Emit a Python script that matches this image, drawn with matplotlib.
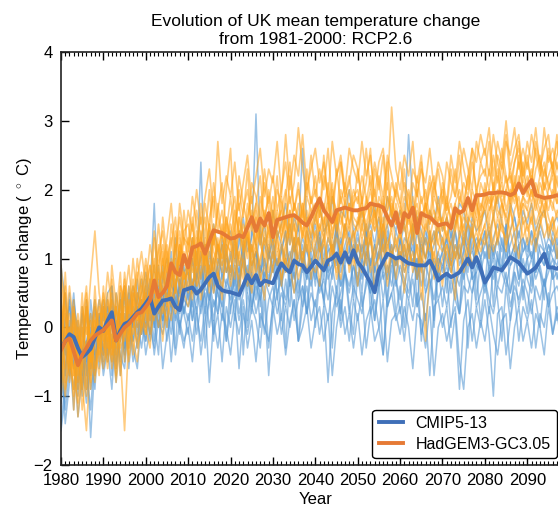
#!/usr/bin/env python3

import matplotlib
matplotlib.use('Agg')
import matplotlib.pyplot as plt
import numpy as np

plt.rcParams['font.family'] = ['Liberation Sans', 'DejaVu Sans']
plt.rcParams['mathtext.fontset'] = 'custom'
plt.rcParams['mathtext.rm'] = 'Liberation Sans'

years = np.arange(1980, 2100)

# ensemble means, 1980-2099
cmip_mean = [
    -0.31, -0.20, -0.10, -0.14, -0.30, -0.43, -0.38, -0.31, -0.15, 0.00,
    -0.05, 0.10, 0.22, -0.19, -0.05, 0.05, 0.08, 0.15, 0.22, 0.27,
    0.35, 0.44, 0.20, 0.30, 0.39, 0.40, 0.42, 0.30, 0.25, 0.54,
    0.56, 0.58, 0.49, 0.55, 0.64, 0.73, 0.78, 0.60, 0.54, 0.52,
    0.51, 0.49, 0.47, 0.61, 0.76, 0.64, 0.76, 0.61, 0.68, 0.66,
    0.64, 0.80, 0.93, 0.85, 0.80, 0.97, 0.92, 0.90, 0.80, 0.88,
    0.97, 0.90, 0.83, 0.97, 1.00, 1.07, 0.94, 1.09, 0.94, 1.12,
    0.95, 0.87, 0.76, 0.65, 0.51, 0.83, 0.95, 1.07, 1.04, 1.00,
    1.02, 0.97, 0.93, 0.92, 0.90, 0.90, 0.90, 0.97, 0.85, 0.68,
    0.74, 0.78, 0.73, 0.76, 0.80, 0.90, 1.00, 0.87, 1.02, 0.85,
    0.65, 0.75, 0.87, 0.85, 0.83, 0.92, 1.02, 0.98, 0.94, 0.86,
    0.78, 0.82, 0.87, 0.97, 1.07, 0.87, 0.87, 0.85, 0.90, 0.88,
]

hadgem_mean = [
    -0.33, -0.20, -0.16, -0.35, -0.55, -0.40, -0.30, -0.19, -0.12, -0.08,
    -0.04, 0.03, 0.10, -0.19, -0.09, 0.00, 0.05, 0.12, 0.20, 0.22,
    0.30, 0.39, 0.68, 0.44, 0.50, 0.60, 0.93, 0.80, 0.76, 1.05,
    0.87, 1.16, 1.18, 1.22, 1.07, 1.25, 1.41, 1.39, 1.37, 1.33,
    1.29, 1.30, 1.34, 1.31, 1.45, 1.60, 1.40, 1.58, 1.48, 1.66,
    1.31, 1.56, 1.58, 1.60, 1.62, 1.63, 1.58, 1.52, 1.48, 1.60,
    1.74, 1.87, 1.70, 1.62, 1.53, 1.70, 1.72, 1.74, 1.72, 1.70,
    1.70, 1.72, 1.73, 1.80, 1.78, 1.77, 1.74, 1.60, 1.48, 1.67,
    1.38, 1.66, 1.60, 1.74, 1.37, 1.66, 1.62, 1.60, 1.54, 1.48,
    1.50, 1.51, 1.44, 1.73, 1.66, 1.70, 1.88, 1.70, 1.92, 1.92,
    1.93, 1.95, 1.95, 1.96, 1.96, 1.95, 1.92, 1.95, 2.09, 1.95,
    2.05, 2.14, 1.92, 1.90, 1.88, 1.89, 1.90, 1.92, 1.90, 1.93,
]

# individual CMIP5 runs
cmip_runs = [
    [-0.6, 0.1, 0.3, -0.2, -0.5, -0.9, -0.3, 0.2, -0.1, 0.4,
     0.1, 0.5, 0.6, -0.3, 0.2, 0.0, 0.3, 0.6, 0.2, 0.5,
     0.8, 0.4, 0.9, 0.3, 0.7, 1.0, 0.6, 0.5, 1.1, 0.8,
     0.9, 1.3, 0.7, 1.0, 1.2, 0.8, 1.5, 1.1, 0.9, 1.3,
     1.4, 1.0, 1.2, 1.6, 1.1, 1.3, 3.1, 1.2, 1.5, 1.0,
     1.7, 1.3, 1.5, 1.8, 1.2, 1.6, 1.4, 2.6, 1.5, 1.3,
     1.6, 1.8, 1.4, 1.5, 1.9, 1.3, 1.7, 1.6, 2.0, 1.4,
     1.5, 1.7, 1.3, 1.6, 1.8, 1.2, 1.5, 1.9, 1.6, 1.4,
     1.7, 1.5, 2.8, 1.8, 1.6, 1.4, 1.2, 1.7, 1.5, 1.9,
     1.4, 1.6, 1.3, 1.5, 1.8, 1.7, 1.2, 1.6, 1.4, 1.5,
     1.7, 1.3, 1.6, 1.9, 1.5, 1.4, 1.8, 1.6, 1.3, 1.7,
     1.5, 1.8, 1.4, 1.6, 1.7, 1.3, 1.5, 1.6, 1.4, 1.7],
    [0.3, -0.4, -0.1, 0.5, -0.3, -0.7, -0.2, 0.1, -0.5, 0.2,
     -0.2, 0.3, 0.0, -0.6, 0.4, 0.1, -0.1, 0.5, 0.3, 0.0,
     0.4, 0.7, 0.1, 0.5, 0.9, 0.3, 0.6, 1.3, 0.5, 0.7,
     0.8, 0.5, 1.1, 0.7, 1.0, 1.4, 0.6, 0.9, 1.2, 0.8,
     1.0, 1.3, 0.9, 1.1, 0.7, 1.4, 1.2, 0.8, 1.3, 1.1,
     0.9, 1.4, 1.2, 1.0, 1.5, 1.1, 1.3, 0.9, 1.4, 1.2,
     1.5, 1.1, 1.3, 1.6, 1.0, 1.4, 1.2, 1.5, 1.3, 1.1,
     1.4, 1.0, 1.3, 1.5, 1.2, 1.6, 1.1, 1.3, 1.0, 1.4,
     1.2, 1.5, 1.1, 1.3, 1.6, 1.0, 1.4, 1.2, 1.3, 1.5,
     1.1, 1.3, 1.5, 1.0, 1.4, 1.2, 1.6, 1.1, 1.3, 1.2,
     1.4, 1.0, 1.3, 1.5, 1.2, 1.1, 1.4, 1.6, 1.2, 1.3,
     1.1, 1.4, 1.2, 1.5, 1.3, 1.0, 1.4, 1.2, 1.3, 1.4],
    [-1.4, -0.8, 0.0, -0.3, -1.0, -0.4, 0.2, -0.6, -0.2, 0.1,
     -0.5, 0.2, -0.3, 0.3, -0.1, 0.6, 0.1, -0.2, 0.5, 0.3,
     0.0, 0.5, 1.8, 0.2, 0.4, 0.7, 0.3, 0.6, 0.9, 0.4,
     0.7, 1.0, 0.5, 0.9, 0.6, 1.1, 0.8, 1.2, 0.7, 1.0,
     0.8, 1.2, 0.6, 1.0, 1.3, 0.9, 1.1, 0.7, 1.2, 1.0,
     1.3, 0.9, 1.1, 1.4, 0.8, 1.2, 1.0, 1.3, 1.1, 0.9,
     1.2, 1.4, 1.0, 1.3, 1.1, 1.5, 0.9, 1.2, 1.4, 1.0,
     1.3, 1.1, 1.4, 0.9, 1.2, 1.0, 1.3, 1.5, 1.1, 1.2,
     1.0, 1.3, 1.2, 0.9, 1.4, 1.1, 1.3, 1.0, 1.2, 1.4,
     1.3, 0.9, 1.2, 1.4, 1.0, 1.3, 1.1, 1.4, 1.2, 1.0,
     1.2, 1.4, 1.0, 1.3, 1.1, 1.5, 1.0, 1.2, 1.4, 1.1,
     1.3, 1.0, 1.2, 1.4, 1.1, 1.3, 1.2, 1.0, 1.3, 1.2],
    [0.2, -0.3, -0.7, 0.4, -0.1, -0.5, -1.1, -0.4, 0.0, -0.2,
     0.3, -0.4, 0.1, -0.2, 0.5, -0.3, 0.2, 0.0, 0.4, 0.7,
     0.2, 0.5, 0.0, 0.6, 0.3, 0.8, 0.4, 0.1, 0.7, 0.5,
     1.0, 0.6, 0.8, 2.4, 0.7, 0.9, 0.5, 1.0, 0.8, 1.1,
     0.7, 1.0, 0.8, 1.2, 0.6, 0.9, 1.1, 0.8, 1.0, 0.7,
     1.1, 0.9, 1.2, 0.8, 1.0, 1.3, 0.9, 1.1, 0.7, 1.2,
     1.0, 1.3, 0.8, 1.1, 1.2, 0.9, 1.3, 1.0, 1.1, 1.4,
     0.9, 1.2, 1.0, 1.3, 0.8, 1.1, 1.4, 1.0, 1.2, 0.9,
     1.3, 1.0, 1.2, 1.1, 0.8, 1.3, 1.0, 1.2, 1.4, 0.9,
     1.1, 1.3, 0.9, 1.2, 1.0, 1.4, 1.1, 0.9, 1.2, 1.3,
     1.0, 1.2, 1.1, 0.8, 1.3, 1.0, 1.2, 1.4, 0.9, 1.1,
     1.2, 1.0, 1.3, 1.1, 0.9, 1.2, 1.1, 1.3, 1.0, 1.2],
    [-0.9, -0.2, 0.4, -0.6, -0.1, -0.8, -0.3, -1.6, -0.5, 0.0,
     -0.3, 0.0, 0.4, -0.5, -0.2, 0.2, -0.1, 0.3, 0.0, 0.2,
     0.5, 0.1, 0.3, 0.7, 0.2, 0.4, 0.9, 0.3, 0.5, 0.2,
     0.6, 0.3, 0.8, 0.5, 0.9, 0.4, 0.7, 0.2, 0.8, 0.6,
     0.9, 0.5, 0.7, 1.0, 0.6, 0.8, 0.4, 0.9, 0.7, 1.1,
     0.8, 1.0, 0.6, 0.9, 1.1, 0.7, 0.9, 1.2, 0.8, 1.0,
     0.7, 1.0, 1.2, 0.8, 0.9, 1.1, 0.6, 1.0, 0.9, 1.2,
     1.0, 0.7, 1.1, 0.9, 1.2, 0.8, 1.0, 0.7, 1.1, 0.9,
     1.1, 0.8, 1.0, 1.2, 0.7, 1.0, 0.9, 1.1, 0.8, 1.0,
     0.9, 1.1, 0.8, 1.0, 1.2, 0.7, 1.0, 1.1, 0.9, 0.8,
     1.1, 0.9, 1.2, 1.0, 0.8, 1.1, 0.9, 1.0, 1.2, 0.8,
     1.0, 1.1, 0.8, 1.0, 0.9, 1.2, 1.0, 0.9, 1.1, 1.0],
    [0.9, 0.4, -0.2, -0.6, 0.1, -0.4, 0.3, -0.2, -0.7, 0.1,
     0.4, -0.1, 0.2, -0.4, 0.0, 0.5, -0.2, 0.1, 0.3, -0.1,
     0.2, 0.6, 0.0, 0.4, 0.1, 0.5, 0.3, 0.7, 0.2, 0.4,
     0.3, 0.7, 0.5, 0.2, 0.6, 0.4, 0.8, 0.5, 0.3, 0.7,
     0.5, 0.8, 0.4, 0.6, 0.9, 0.3, 0.7, 0.5, 0.8, 0.6,
     0.9, 0.5, 0.7, 1.0, 0.6, 0.8, 0.4, 0.9, 0.7, 1.0,
     0.8, 0.6, 1.0, 0.7, 0.9, 0.5, 1.1, 0.8, 0.6, 0.9,
     0.7, 1.0, 0.8, 0.5, 0.9, 1.1, 0.7, 0.9, 0.6, 1.0,
     0.8, 0.6, 0.9, 1.0, 0.7, 0.9, 0.5, 0.8, 1.0, 0.7,
     0.9, 0.7, 1.0, 0.6, 0.8, 0.9, 1.1, 0.7, 0.8, 1.0,
     0.6, 0.9, 0.7, 1.0, 0.8, 0.6, 0.9, 1.1, 0.7, 0.9,
     0.8, 1.0, 0.7, 0.9, 0.6, 0.8, 1.0, 0.7, 0.9, 0.8],
    [-1.5, -1.0, -0.4, 0.2, -0.8, -0.3, -0.9, 0.0, -0.4, -0.1,
     -0.6, -0.2, 0.3, -0.1, -0.5, 0.1, -0.3, 0.2, -0.1, 0.4,
     0.0, 0.3, -0.2, 0.5, 0.1, 0.3, -0.1, 0.4, 0.6, 0.2,
     0.5, 0.1, 0.4, 0.6, 0.2, 0.7, 0.3, 0.5, 0.1, 0.6,
     0.4, 0.7, 0.2, 0.5, 0.8, 0.3, 0.6, 0.4, 0.7, 0.5,
     0.3, 0.8, 0.6, 0.4, 0.9, 0.5, 0.7, 0.3, 0.8, 0.6,
     0.9, 0.5, 0.7, 0.4, 0.8, 1.0, 0.6, 0.8, 0.5, 0.9,
     0.6, 0.8, 1.0, 0.5, 0.7, 0.9, 0.4, 0.8, 1.0, 0.6,
     0.9, 0.7, 0.5, 0.8, 1.0, 0.6, 0.9, 0.7, 0.4, 0.8,
     0.7, 0.9, 0.5, 0.8, 0.6, 1.0, 0.7, 0.5, 0.9, 0.8,
     0.5, 0.8, 1.0, 0.6, 0.9, 0.7, 0.5, 0.8, 0.6, 1.0,
     0.7, 0.5, 0.9, 0.8, 0.6, 1.0, 0.7, 0.8, 0.5, 0.9],
    [-0.2, 0.5, -0.4, -0.9, -0.3, 0.2, -0.6, -1.2, -0.3, 0.1,
     -0.4, 0.1, -0.3, 0.2, -0.7, -0.1, 0.3, -0.2, 0.1, -0.3,
     0.2, -0.1, 0.3, 0.0, 0.4, -0.2, 0.2, 0.5, 0.0, 0.3,
     0.1, 0.4, -0.1, 0.3, 0.5, 0.0, 0.4, 0.2, 0.6, -0.2,
     0.3, 0.5, 0.1, 0.4, 0.0, 0.6, 0.2, 0.5, -0.1, 0.4,
     0.6, 0.2, 0.5, 0.3, 0.7, 0.1, 0.4, 0.6, 0.2, 0.5,
     0.3, 0.7, 0.4, 0.1, 0.6, 0.3, 0.5, 0.8, 0.2, 0.6,
     0.4, 0.2, 0.7, 0.5, 0.1, 0.6, 0.8, 0.3, 0.5, 0.7,
     0.2, 0.6, 0.4, 0.7, 0.3, 0.5, 0.1, 0.6, 0.8, 0.4,
     0.6, 0.3, 0.7, 0.4, 0.2, 0.6, 0.5, 0.8, 0.3, 0.5,
     0.7, 0.4, 0.2, 0.6, 0.5, 0.8, 0.3, 0.6, 0.4, 0.7,
     0.5, 0.2, 0.6, 0.4, 0.7, 0.3, 0.5, 0.6, 0.4, 0.6],
    [-0.5, -1.2, -0.6, 0.0, -0.4, -1.0, -0.2, -0.7, 0.3, -0.3,
     0.0, -0.5, -0.1, -0.8, 0.2, -0.4, 0.1, -0.3, -0.6, 0.1,
     -0.2, 0.2, -0.4, 0.1, -0.1, 0.3, -0.5, 0.2, 0.0, -0.3,
     0.2, -0.2, 0.3, -0.4, 0.1, 0.4, -0.1, 0.2, -0.5, 0.3,
     0.0, 0.4, -0.6, 0.2, -0.1, 0.3, 0.1, -0.3, 0.4, -0.7,
     0.2, 0.5, -0.1, 0.3, 0.0, 0.4, -0.2, 0.3, 0.6, 0.1,
     0.4, -0.1, 0.3, -0.8, 0.2, 0.5, 0.0, 0.3, -0.2, 0.4,
     0.1, 0.5, -0.3, 0.2, 0.4, 0.0, -0.4, 0.3, 0.5, 0.1,
     0.3, -0.2, 0.4, 0.1, 0.5, -0.1, 0.2, -0.7, 0.3, 0.4,
     0.0, 0.3, -0.3, 0.2, -0.9, 0.1, 0.4, -0.2, 0.3, 0.0,
     0.4, -0.1, -1.0, 0.2, 0.3, -0.4, 0.1, 0.5, -0.2, 0.3,
     0.1, 0.4, -0.3, 0.2, 0.0, 0.5, -0.1, 0.3, 0.2, 0.1],
    [-1.1, -0.6, 0.1, -0.4, -1.3, -0.7, -0.2, -0.9, -0.5, -0.1,
     -0.7, -0.3, -0.9, 0.0, -0.4, -0.6, 0.1, -0.5, -0.2, 0.2,
     -0.4, 0.0, -0.3, 0.3, -0.6, -0.1, 0.2, -0.4, 0.1, -0.2,
     0.0, -0.5, 0.2, -0.2, 0.3, -0.8, 0.1, -0.3, 0.2, 0.0,
     -0.4, 0.2, -0.1, 0.3, -0.3, 0.1, -0.5, 0.2, 0.0, -0.2,
     0.3, -0.1, 0.2, -0.4, 0.1, 0.4, -0.2, 0.0, 0.3, -0.3,
     0.1, 0.3, -0.2, 0.2, -0.7, 0.0, 0.4, -0.1, 0.2, -0.3,
     0.2, -0.4, 0.1, 0.3, -0.2, 0.0, 0.4, -0.5, 0.1, 0.2,
     -0.1, 0.3, 0.0, -0.6, 0.2, 0.1, -0.3, 0.3, -0.7, 0.0,
     0.2, -0.2, 0.1, 0.3, -0.5, -0.9, 0.0, 0.2, -0.3, 0.1,
     -0.2, 0.3, -0.1, -0.4, 0.1, 0.2, -0.6, 0.0, 0.3, -0.2,
     0.1, -0.3, 0.2, 0.0, -0.4, 0.3, -0.1, 0.2, -0.2, 0.0],
    [0.0, -0.7, 0.5, -0.2, -0.9, 0.3, -0.5, -0.1, 0.4, -0.6,
     0.3, -0.3, 0.6, -0.2, 0.4, -0.5, 0.5, 0.0, 0.7, -0.1,
     0.6, -0.2, 0.5, 0.9, 0.0, 0.7, 0.2, 1.0, -0.1, 0.6,
     0.9, 0.1, 0.7, 1.1, 0.3, 0.8, -0.2, 0.9, 0.5, 1.2,
     0.2, 0.9, 0.5, 1.3, 0.1, 0.8, 1.1, 0.3, 1.0, 0.6,
     1.2, 0.4, 0.9, -0.3, 0.8, 1.3, 0.5, 1.0, 0.2, 1.1,
     0.6, 1.3, 0.3, 1.0, 0.7, 1.4, 0.1, 0.9, 1.2, 0.4,
     1.0, 0.5, 1.3, 0.2, 0.9, 0.6, 1.4, 0.3, 1.1, 0.7,
     0.4, 1.2, 0.8, 1.5, 0.3, 1.0, 0.6, 1.3, 0.0, 0.9,
     1.1, 0.5, 1.4, 0.7, 0.2, 1.2, 0.8, 1.5, 0.4, 1.0,
     0.6, 1.3, 0.3, 1.1, 0.8, 1.4, 0.5, 0.9, 1.2, 0.4,
     1.0, 0.6, 1.3, 0.8, 0.4, 1.1, 0.7, 1.2, 0.5, 0.9],
    [-0.8, 0.2, -0.4, -1.2, 0.0, -0.6, 0.4, -0.3, -0.9, 0.1,
     -0.4, 0.3, -0.7, 0.1, -0.2, 0.5, -0.6, 0.2, -0.3, 0.4,
     -0.2, 0.5, 0.1, -0.4, 0.6, 0.0, 0.4, -0.3, 0.7, 0.2,
     -0.1, 0.6, 0.2, 0.8, -0.3, 0.5, 0.1, 0.7, 0.3, -0.2,
     0.7, 0.1, 0.9, -0.4, 0.5, 0.2, 0.8, 0.0, 0.6, -0.3,
     0.4, 0.9, 0.1, 0.7, 0.3, 1.0, -0.2, 0.6, 0.2, 0.8,
     0.0, 0.7, 0.4, 1.0, -0.3, 0.6, 0.2, 0.9, 0.3, -0.1,
     0.8, 0.3, 0.6, 1.0, 0.1, 0.7, -0.4, 0.5, 0.9, 0.2,
     0.6, 0.0, 0.8, 0.3, 1.0, -0.2, 0.5, 0.7, 0.1, 0.9,
     0.3, 0.8, 0.0, 0.6, 0.2, 0.9, -0.3, 0.5, 0.8, 0.1,
     0.7, 0.2, 0.9, 0.4, -0.2, 0.6, 0.1, 0.8, 0.3, 0.6,
     0.2, 0.8, 0.4, 0.0, 0.7, 0.3, 0.9, 0.1, 0.6, 0.4],
    [-0.3, -1.4, -0.8, 0.3, -0.5, 0.0, -0.7, 0.4, -0.2, 0.2,
     -0.1, 0.4, -0.5, 0.5, 0.0, -0.3, 0.6, 0.1, 0.4, 0.0,
     0.7, 0.2, 0.5, 0.0, 0.8, 0.4, 1.1, 0.3, 0.6, 0.9,
     0.4, 1.0, 0.6, 0.3, 1.2, 0.7, 1.0, 0.5, 1.3, 0.8,
     1.1, 0.6, 1.4, 0.9, 0.5, 1.2, 0.8, 1.5, 0.7, 1.0,
     1.3, 0.7, 1.1, 1.4, 0.6, 1.0, 1.5, 0.8, 1.2, 0.7,
     1.1, 1.4, 0.7, 1.2, 0.9, 1.5, 0.8, 1.1, 1.3, 0.6,
     1.2, 0.9, 1.5, 0.7, 1.0, 1.3, 0.8, 1.4, 1.0, 0.7,
     1.3, 0.9, 1.1, 1.5, 0.7, 1.2, 1.0, 1.4, 0.8, 1.1,
     0.8, 1.3, 1.0, 1.4, 0.9, 1.1, 1.5, 0.7, 1.2, 1.0,
     1.4, 0.8, 1.1, 1.3, 0.9, 1.5, 1.0, 1.2, 0.7, 1.3,
     1.0, 1.4, 0.8, 1.2, 1.1, 0.9, 1.3, 1.0, 1.4, 1.1],
]

# individual HadGEM3 perturbed-physics runs
hadgem_runs = [
    [0.4, -0.3, 0.6, 0.0, -0.5, 0.3, -0.1, 0.7, 1.4, 0.5,
     0.1, 0.8, 0.3, -0.2, 0.6, 0.4, 0.9, 0.2, 0.7, 1.1,
     0.6, 1.2, 0.8, 1.5, 0.9, 1.3, 1.8, 1.1, 1.6, 1.2,
     1.7, 1.4, 2.0, 1.5, 1.9, 2.3, 1.6, 2.7, 1.8, 2.2,
     1.9, 2.4, 1.7, 2.1, 2.5, 1.8, 2.2, 2.6, 1.9, 2.3,
     2.1, 2.7, 1.9, 2.8, 2.0, 2.5, 2.2, 2.8, 2.0, 2.3,
     2.6, 2.1, 2.4, 1.9, 2.7, 2.2, 2.5, 2.0, 2.6, 2.3,
     2.1, 2.7, 2.2, 2.5, 1.9, 2.4, 2.6, 2.0, 3.2, 2.3,
     2.0, 2.5, 2.2, 2.7, 1.9, 2.3, 2.1, 2.6, 2.0, 2.4,
     2.2, 1.8, 2.5, 2.1, 2.7, 2.3, 2.0, 2.6, 2.4, 2.8,
     2.5, 2.9, 2.2, 2.7, 2.4, 3.0, 2.3, 2.6, 2.8, 2.2,
     2.7, 2.4, 2.9, 2.3, 2.6, 2.8, 2.2, 2.5, 2.7, 2.4],
    [-0.2, 0.5, -0.6, 0.2, -0.3, 0.1, 0.6, -0.4, 0.3, 0.0,
     0.5, -0.1, 0.4, 0.2, 0.8, -0.2, 0.6, 0.3, 1.0, 0.5,
     1.0, 0.6, 1.4, 0.9, 1.2, 0.7, 1.5, 1.0, 1.8, 1.3,
     1.2, 1.9, 1.5, 1.1, 1.8, 1.4, 2.1, 1.6, 1.3, 2.0,
     2.6, 1.4, 2.2, 1.8, 1.5, 2.1, 1.9, 1.6, 2.3, 1.8,
     2.2, 1.7, 2.0, 2.4, 1.8, 2.1, 2.9, 2.3, 1.9, 2.5,
     1.9, 2.3, 2.0, 2.6, 1.8, 2.2, 2.4, 1.9, 2.1, 2.5,
     2.3, 1.8, 2.6, 2.0, 2.4, 2.1, 1.7, 2.5, 2.2, 1.9,
     2.4, 2.0, 1.7, 2.3, 2.1, 2.5, 1.8, 2.2, 1.9, 2.3,
     1.8, 2.4, 2.1, 1.9, 2.2, 2.6, 2.3, 2.0, 2.7, 2.4,
     2.6, 2.2, 2.8, 2.4, 2.1, 2.7, 2.5, 2.9, 2.3, 2.6,
     2.3, 2.8, 2.5, 2.2, 2.9, 2.4, 2.6, 2.3, 2.5, 2.7],
    [-0.7, -0.1, 0.2, -0.4, -0.9, -0.2, 0.3, -0.5, 0.1, -0.2,
     0.3, 0.0, -0.4, 0.5, 0.1, 0.7, 0.2, 0.6, 0.4, 0.8,
     0.4, 0.9, 0.5, 1.1, 1.4, 0.8, 1.2, 1.6, 0.9, 1.4,
     1.5, 1.1, 1.7, 1.3, 1.0, 1.6, 1.9, 1.4, 1.7, 1.2,
     1.6, 1.9, 1.3, 1.7, 2.0, 1.5, 1.8, 1.4, 2.1, 1.7,
     1.5, 2.0, 1.8, 1.4, 2.2, 1.7, 2.0, 1.6, 2.1, 1.8,
     2.0, 1.6, 2.2, 1.9, 1.5, 2.3, 1.8, 2.1, 1.7, 2.0,
     1.8, 2.2, 1.9, 1.6, 2.3, 2.0, 2.5, 1.7, 2.1, 1.9,
     1.7, 2.1, 1.9, 1.5, 2.2, 1.8, 2.0, 1.6, 2.1, 1.8,
     2.0, 1.7, 1.9, 2.3, 1.8, 2.1, 1.9, 2.4, 2.0, 2.2,
     2.3, 2.0, 2.5, 2.1, 2.6, 2.2, 1.9, 2.4, 2.7, 2.1,
     2.4, 2.1, 2.6, 2.3, 2.0, 2.5, 2.3, 2.7, 2.2, 2.4],
    [0.7, 0.1, -0.4, 0.3, -0.1, -0.6, 0.2, -0.2, 0.4, -0.1,
     -0.3, 0.4, 0.1, -0.1, 0.3, 0.6, 0.0, 0.4, 0.1, 0.7,
     0.3, 0.5, 1.0, 0.6, 0.8, 1.2, 0.7, 1.1, 1.4, 0.9,
     1.3, 0.9, 1.2, 1.6, 1.1, 1.5, 1.2, 1.8, 1.3, 1.6,
     1.3, 1.7, 1.4, 1.1, 1.8, 1.5, 1.2, 1.9, 1.6, 1.4,
     1.9, 1.5, 1.7, 2.0, 1.4, 1.8, 1.6, 1.3, 1.9, 1.7,
     1.5, 1.9, 1.7, 2.1, 1.6, 1.4, 2.0, 1.8, 1.5, 1.9,
     2.0, 1.6, 1.8, 2.2, 1.5, 1.9, 1.7, 2.1, 1.6, 2.0,
     1.8, 1.5, 2.0, 1.7, 1.4, 1.9, 1.6, 2.1, 1.7, 1.5,
     1.9, 1.6, 1.4, 1.8, 2.0, 1.7, 2.2, 1.8, 1.6, 2.1,
     1.9, 2.3, 2.0, 1.8, 2.4, 2.1, 2.2, 1.9, 2.5, 2.0,
     2.2, 1.9, 2.3, 2.5, 2.0, 2.2, 2.4, 1.9, 2.1, 2.3],
    [-0.4, 0.3, -0.8, -0.3, 0.2, -0.5, -1.0, -0.1, -0.6, 0.0,
     -0.2, -0.5, 0.2, -0.4, 0.0, 0.3, -0.1, 0.5, 0.2, 0.0,
     0.5, 0.2, 0.7, 0.4, 1.0, 0.6, 0.9, 0.5, 1.2, 1.0,
     0.9, 1.3, 1.0, 1.4, 0.8, 1.2, 1.5, 1.1, 1.4, 1.0,
     1.5, 1.2, 1.6, 1.3, 1.0, 1.7, 1.4, 1.2, 1.6, 1.9,
     1.4, 1.7, 1.3, 1.6, 1.9, 1.5, 1.2, 1.8, 1.5, 1.7,
     1.8, 1.4, 1.6, 1.3, 1.9, 1.7, 1.5, 1.8, 2.0, 1.6,
     1.5, 1.8, 1.4, 1.7, 2.0, 1.6, 1.9, 1.5, 1.8, 1.6,
     1.4, 1.7, 1.5, 1.9, 1.6, 1.3, 1.8, 1.5, 1.7, 1.4,
     1.6, 1.9, 1.5, 1.7, 1.3, 1.8, 1.6, 1.5, 2.0, 1.7,
     2.0, 1.7, 1.9, 2.2, 1.8, 2.0, 2.3, 1.9, 2.1, 2.4,
     1.9, 2.2, 2.0, 1.8, 2.3, 2.1, 1.9, 2.4, 2.0, 2.2],
    [0.1, -0.6, -0.2, -1.0, -0.5, 0.0, -0.4, 0.2, -0.3, -0.7,
     0.1, -0.2, 0.5, -0.6, 0.2, -0.1, 0.4, 0.1, -0.2, 0.6,
     0.1, 0.4, 0.9, 0.3, 0.6, 1.1, 0.5, 0.8, 0.6, 1.1,
     0.7, 1.0, 1.4, 0.9, 1.2, 0.8, 1.3, 1.0, 1.5, 1.2,
     1.1, 1.4, 1.0, 1.5, 1.3, 1.1, 1.6, 1.3, 1.5, 1.2,
     1.6, 1.3, 1.5, 1.2, 1.7, 1.4, 1.8, 1.3, 1.6, 1.5,
     1.3, 1.7, 1.5, 1.8, 1.4, 1.6, 1.3, 1.9, 1.5, 1.7,
     1.7, 1.4, 1.9, 1.5, 1.7, 1.3, 1.8, 1.6, 1.4, 1.8,
     1.5, 1.8, 1.3, 1.6, 1.8, 1.5, 1.4, 1.7, 1.5, 1.8,
     1.4, 1.6, 1.8, 1.5, 1.7, 1.4, 1.8, 1.6, 1.9, 1.5,
     1.8, 2.0, 1.7, 1.9, 2.1, 1.7, 2.0, 1.8, 2.2, 1.9,
     2.0, 1.8, 2.1, 1.9, 1.7, 2.0, 2.2, 1.8, 2.0, 1.9],
    [-1.0, -0.4, 0.0, -0.7, -0.2, -1.2, -0.6, -0.3, -0.8, -0.1,
     -0.5, 0.0, -0.3, 0.3, -0.7, 0.1, -0.2, 0.3, 0.0, 0.4,
     0.2, 0.6, 0.3, 0.8, 0.5, 0.9, 0.4, 1.0, 0.7, 1.3,
     1.0, 0.8, 1.1, 1.3, 0.9, 1.4, 1.1, 0.9, 1.3, 1.1,
     1.3, 1.0, 1.4, 1.2, 1.5, 1.1, 1.3, 1.6, 1.2, 1.4,
     1.2, 1.5, 1.7, 1.3, 1.5, 1.2, 1.6, 1.4, 1.7, 1.3,
     1.6, 1.4, 1.8, 1.5, 1.3, 1.7, 1.6, 1.4, 1.8, 1.5,
     1.4, 1.7, 1.5, 1.8, 1.4, 1.6, 1.3, 1.7, 1.9, 1.5,
     1.7, 1.4, 1.6, 1.3, 1.7, 1.5, 1.8, 1.4, 1.2, 1.6,
     1.5, 1.3, 1.6, 1.8, 1.4, 1.6, 1.5, 1.7, 1.4, 1.8,
     1.7, 1.9, 1.6, 2.0, 1.8, 1.6, 1.9, 2.1, 1.7, 1.9,
     1.8, 2.0, 1.7, 2.1, 1.9, 1.7, 2.0, 1.8, 2.2, 1.9],
    [-0.3, -0.9, -0.5, -0.1, -1.3, -0.6, -0.2, -0.8, 0.1, -0.4,
     0.0, -0.4, -0.1, -0.8, -0.2, 0.2, -0.5, 0.0, 0.4, -0.1,
     0.4, 0.0, 0.6, 0.2, 0.8, 0.4, 0.7, 1.2, 0.5, 0.8,
     0.6, 1.1, 0.8, 1.0, 1.3, 0.7, 1.0, 1.2, 0.8, 1.4,
     1.0, 1.3, 0.9, 1.1, 1.4, 1.0, 1.2, 0.9, 1.4, 1.1,
     1.4, 1.1, 1.3, 1.6, 1.2, 1.5, 1.0, 1.4, 1.2, 1.6,
     1.2, 1.5, 1.3, 1.6, 1.1, 1.4, 1.7, 1.3, 1.5, 1.2,
     1.6, 1.3, 1.5, 1.2, 1.7, 1.4, 1.6, 1.1, 1.5, 1.7,
     1.3, 1.5, 1.1, 1.4, 1.6, 1.2, 1.5, 1.3, 1.6, 1.2,
     1.6, 1.3, 1.2, 1.5, 1.7, 1.3, 1.5, 1.4, 1.6, 1.3,
     1.5, 1.7, 1.9, 1.6, 1.8, 1.5, 1.7, 2.0, 1.6, 1.8,
     1.7, 1.5, 1.9, 1.7, 1.6, 1.9, 1.8, 1.6, 1.9, 1.7],
    [0.5, -0.2, -0.7, 0.2, -0.4, -0.9, -0.3, 0.1, -0.6, -0.2,
     -0.4, 0.2, -0.6, 0.0, -0.3, -0.1, 0.3, -0.4, 0.2, 0.1,
     -0.1, 0.3, 0.1, 0.5, 0.2, 0.7, 0.3, 0.6, 1.0, 0.5,
     0.9, 0.6, 0.8, 1.2, 0.7, 1.0, 0.8, 1.3, 0.9, 1.1,
     0.8, 1.2, 1.0, 0.7, 1.3, 0.9, 1.1, 1.4, 0.9, 1.2,
     1.0, 1.3, 0.9, 1.2, 1.4, 1.1, 1.3, 0.9, 1.4, 1.1,
     1.4, 1.1, 1.2, 1.5, 1.0, 1.3, 1.1, 1.5, 1.2, 1.4,
     1.1, 1.5, 1.2, 1.4, 1.0, 1.3, 1.5, 1.2, 1.4, 1.1,
     1.4, 1.0, 1.3, 1.5, 1.1, 0.8, 1.3, 1.1, 1.4, 1.2,
     1.1, 1.4, 1.2, 1.0, 1.3, 1.5, 1.2, 1.4, 1.1, 1.6,
     1.7, 1.4, 1.6, 1.3, 1.8, 1.6, 1.4, 1.7, 1.9, 1.5,
     1.6, 1.8, 1.5, 1.7, 1.9, 1.6, 1.4, 1.7, 1.6, 1.8],
    [-0.8, 0.0, -0.3, -0.6, -1.1, -0.4, 0.0, -0.5, -0.2, 0.3,
     -0.1, -0.6, 0.0, -0.3, 0.4, -0.5, 0.0, -0.2, -0.5, 0.2,
     0.0, -0.3, 0.4, 0.0, 0.3, 0.1, 0.5, 0.2, 0.4, 0.8,
     0.5, 0.9, 0.6, 0.8, 1.1, 0.6, 1.0, 0.7, 1.2, 0.8,
     1.0, 0.7, 1.1, 0.9, 0.6, 1.2, 0.8, 1.0, 1.3, 0.8,
     1.1, 0.9, 1.2, 0.8, 1.0, 1.3, 0.9, 1.1, 0.8, 1.3,
     1.0, 1.2, 0.9, 1.3, 1.1, 0.8, 1.2, 1.0, 1.3, 0.9,
     1.2, 1.0, 1.3, 0.8, 1.1, 1.4, 0.9, 1.2, 1.0, 1.3,
     1.0, 1.2, 0.9, 1.1, 0.7, 1.2, 1.0, 1.3, 0.9, 1.1,
     1.3, 1.0, 0.8, 1.2, 1.0, 1.3, 0.9, 1.2, 1.4, 1.1,
     1.3, 1.5, 1.2, 1.6, 1.4, 1.3, 1.7, 1.4, 1.5, 1.8,
     1.4, 1.6, 1.3, 1.5, 1.7, 1.4, 1.6, 1.3, 1.7, 1.5],
    [-0.5, -1.0, -0.2, -0.7, 0.1, -0.8, -1.5, -0.4, -0.7, -0.3,
     -0.6, -0.2, -0.5, 0.1, -0.4, -1.5, -0.1, 0.2, -0.3, 0.0,
     0.3, -0.1, 0.2, 0.5, -0.2, 0.4, 0.1, 0.6, 0.3, 0.5,
     0.3, 0.6, 1.0, 0.4, 0.7, 0.9, 0.5, 0.8, 0.6, 1.0,
     0.6, 0.9, 0.7, 1.0, 0.8, 0.5, 1.0, 0.7, 0.9, 0.6,
     0.9, 1.1, 0.7, 1.0, 0.8, 1.2, 0.7, 1.0, 1.2, 0.9,
     0.8, 1.1, 1.3, 0.9, 1.2, 1.0, 0.7, 1.1, 0.9, 1.2,
     1.0, 0.8, 1.1, 1.3, 0.9, 1.0, 1.2, 0.6, 1.1, 0.9,
     1.2, 0.8, 1.1, 0.9, 1.2, 1.0, -0.2, 0.9, 1.1, 0.8,
     1.0, 1.2, 0.9, 1.1, 0.8, 1.0, 1.2, 0.9, 1.1, 1.3,
     1.2, 1.4, 1.1, 1.3, 1.5, 1.2, 1.4, 1.1, 1.6, 1.3,
     1.5, 1.2, 1.4, 1.6, 1.3, 1.5, 1.2, 1.4, 1.6, 1.3],
    [-0.1, 0.6, -0.4, -0.9, 0.0, -0.3, 0.4, -0.6, -0.1, 0.2,
     0.2, -0.3, 0.7, 0.0, -0.2, 0.4, 0.1, -0.1, 0.5, 0.3,
     0.6, 0.9, 0.5, 1.2, 0.7, 1.0, 1.3, 0.8, 1.1, 0.7,
     1.1, 1.5, 0.9, 1.3, 1.6, 1.0, 1.4, 1.2, 1.0, 1.5,
     1.2, 1.5, 1.8, 1.3, 1.6, 1.9, 1.2, 1.5, 1.7, 1.3,
     1.7, 1.4, 1.9, 1.5, 1.3, 1.8, 1.5, 1.7, 1.4, 1.9,
     1.6, 1.8, 1.4, 1.7, 2.0, 1.5, 1.9, 1.6, 1.4, 1.8,
     1.9, 1.5, 1.7, 2.0, 1.6, 1.8, 1.4, 1.9, 1.7, 1.5,
     1.6, 1.9, 1.7, 1.4, 2.0, 1.6, 1.8, 1.5, 1.9, 1.7,
     1.5, 1.8, 1.6, 1.4, 1.9, 1.7, 1.5, 2.0, 1.8, 1.6,
     2.1, 1.8, 2.0, 2.3, 1.9, 2.2, 1.8, 2.1, 2.4, 2.0,
     2.1, 2.3, 1.9, 2.2, 2.4, 2.0, 2.3, 2.1, 1.9, 2.2],
    [0.3, -0.8, 0.0, -1.2, -0.4, 0.5, -0.9, -0.2, 0.2, -0.5,
     0.4, -0.3, 0.2, -0.7, 0.6, 0.0, -0.4, 0.7, 0.1, 0.5,
     -0.1, 0.7, 0.2, 0.9, 0.4, 0.0, 1.0, 0.6, 1.2, 0.5,
     1.0, 0.4, 1.3, 0.7, 1.1, 0.5, 1.4, 0.8, 0.4, 1.2,
     0.7, 1.3, 0.5, 1.0, 1.4, 0.6, 1.2, 0.8, 0.4, 1.1,
     0.8, 1.4, 0.6, 1.2, 0.9, 0.5, 1.3, 1.0, 1.5, 0.7,
     1.2, 0.6, 1.4, 0.9, 1.3, 0.7, 1.0, 1.5, 0.8, 1.1,
     0.6, 1.3, 0.9, 1.4, 0.5, 1.1, 1.5, 0.8, 1.2, 0.7,
     1.1, 0.5, 1.3, 0.8, 1.2, 0.4, 1.0, 1.4, 0.7, 1.0,
     0.6, 1.2, 0.9, 0.4, 1.3, 0.8, 1.1, 1.5, 1.0, 1.3,
     1.5, 1.0, 1.7, 1.2, 1.6, 1.1, 1.8, 1.3, 1.0, 1.6,
     1.2, 1.7, 1.1, 1.5, 1.8, 1.3, 1.6, 1.0, 1.5, 1.4],
    [-0.6, 0.8, -0.2, 0.4, -0.8, 0.0, 0.5, -0.5, 0.6, -0.3,
     0.6, -0.2, 0.9, 0.3, -0.1, 0.8, 0.2, 1.0, 0.4, 0.1,
     0.9, 0.3, 1.3, 0.7, 1.6, 1.0, 0.6, 1.4, 0.9, 1.7,
     1.1, 1.6, 0.9, 1.8, 1.3, 2.0, 1.2, 1.7, 2.1, 1.4,
     1.9, 1.3, 2.0, 1.6, 2.3, 1.4, 1.8, 2.2, 1.5, 2.0,
     1.6, 2.2, 1.4, 1.9, 2.4, 1.7, 2.1, 1.5, 2.3, 1.8,
     2.2, 1.6, 2.5, 1.8, 2.1, 1.5, 2.4, 1.9, 2.2, 1.7,
     2.3, 1.8, 2.1, 2.6, 1.7, 2.2, 1.9, 2.4, 1.6, 2.1,
     1.8, 2.3, 1.6, 2.1, 1.9, 2.4, 1.7, 2.0, 2.2, 1.6,
     2.1, 1.7, 2.3, 1.9, 2.5, 1.8, 2.2, 2.6, 1.9, 2.4,
     2.2, 2.7, 2.0, 2.5, 2.3, 2.8, 2.1, 2.4, 2.6, 2.2,
     2.5, 2.1, 2.7, 2.4, 2.2, 2.6, 2.3, 2.8, 2.1, 2.5],
    [0.9, 0.2, -0.5, 0.1, -0.7, -0.2, 0.3, -0.9, 0.0, 0.4,
     -0.2, 0.5, -0.4, 0.3, -0.1, 0.6, -0.3, 0.4, 0.8, 0.2,
     0.6, 0.1, 0.8, 0.4, 1.1, 0.3, 0.9, 0.5, 1.3, 0.7,
     0.8, 1.3, 0.6, 1.1, 0.9, 1.5, 0.8, 1.2, 1.0, 1.6,
     1.2, 0.9, 1.6, 1.1, 1.4, 0.8, 1.7, 1.2, 1.0, 1.5,
     1.1, 1.6, 1.3, 0.9, 1.7, 1.2, 1.5, 1.8, 1.1, 1.4,
     1.7, 1.2, 1.5, 1.9, 1.3, 1.6, 1.0, 1.4, 1.8, 1.3,
     1.5, 1.9, 1.2, 1.6, 1.4, 1.8, 1.1, 1.5, 1.7, 1.2,
     1.4, 1.1, 1.7, 1.2, 1.5, 0.9, 1.6, 1.3, 1.0, 1.5,
     1.2, 1.6, 1.0, 1.4, 1.7, 1.2, 1.5, 1.3, 1.8, 1.4,
     1.9, 1.5, 2.1, 1.7, 1.6, 2.0, 1.8, 2.2, 1.6, 1.9,
     1.7, 2.0, 1.8, 1.6, 2.1, 1.9, 1.7, 2.2, 1.8, 2.0],
]

fig = plt.figure(figsize=(5.58, 5.08), dpi=100)
# the right end of the axis runs past the figure edge
ax = fig.add_axes([0.1093, 0.0846, 0.9116, 0.813])

for run in cmip_runs:
    ax.plot(years, run, color='#5b9bd5', alpha=0.6, lw=1.1)
for run in hadgem_runs:
    ax.plot(years, run, color='#ffa31a', alpha=0.55, lw=1.2)

ax.plot(years, cmip_mean, color='#3f6fb8', lw=2.8, label='CMIP5-13')
ax.plot(years, hadgem_mean, color='#e67a35', lw=2.8, label='HadGEM3-GC3.05')

ax.set_xlim(1980, 2100)
ax.set_ylim(-2, 4)
ax.set_xticks(np.arange(1980, 2100, 10))
ax.set_xticks(np.arange(1980, 2100, 1), minor=True)
ax.set_yticks(np.arange(-2, 5, 1))
ax.tick_params(axis='both', which='major', direction='in', length=6, width=1,
               labelsize=12, top=True, right=True)
ax.tick_params(axis='x', which='major', pad=5.5)
ax.tick_params(axis='x', which='minor', direction='in', length=3, width=0.8,
               top=True)
ax.tick_params(axis='y', which='major', pad=6)
for sp in ax.spines.values():
    sp.set_linewidth(1.2)
    sp.set_color('#222222')

ax.set_xlabel('Year', fontsize=12, labelpad=3)
ax.set_ylabel(r'Temperature change ( $^\circ$ C)', fontsize=12, labelpad=-1)
ax.set_title('Evolution of UK mean temperature change\nfrom 1981-2000: RCP2.6',
             fontsize=12.5, pad=6, linespacing=1.2)

leg = ax.legend(loc='lower right', bbox_to_anchor=(557 / 558, 50 / 508),
                bbox_transform=fig.transFigure, fontsize=11.5, fancybox=True,
                framealpha=1, edgecolor='black', handlelength=1.5,
                borderpad=0.4, labelspacing=0.35, borderaxespad=0)
leg.get_frame().set_linewidth(1.0)

fig.savefig('out.png', dpi=100)
